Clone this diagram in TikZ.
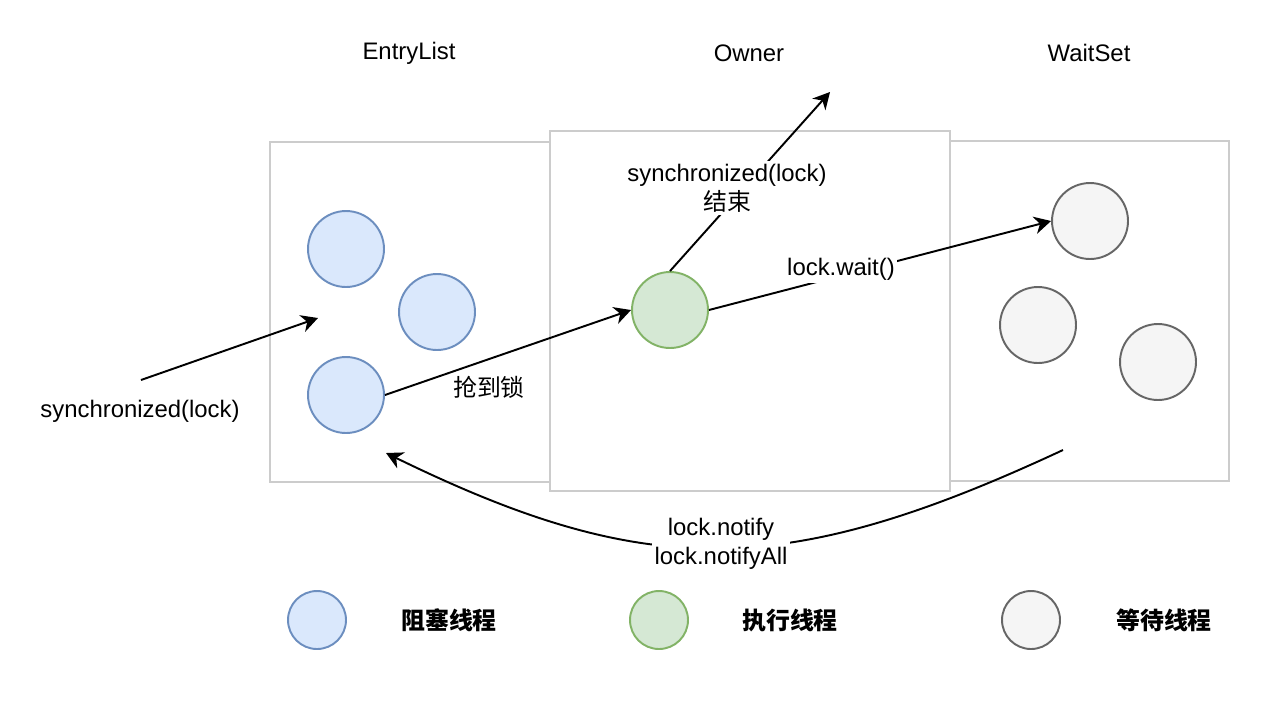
\documentclass[tikz,border=0pt]{standalone}
\usepackage{fontspec}
\setmainfont{Liberation Sans}
\newfontfamily\cjk{Noto Sans CJK SC}
\usepackage{xcolor}
\usepackage{tikz}
\usetikzlibrary{shapes,arrows.meta,positioning,calc}

\definecolor{boxgray}{HTML}{CCCCCC}
\definecolor{blockfill}{HTML}{DAE8FC}
\definecolor{blockline}{HTML}{6C8EBF}
\definecolor{runfill}{HTML}{D5E8D4}
\definecolor{runline}{HTML}{82B366}
\definecolor{waitfill}{HTML}{F5F5F5}
\definecolor{waitline}{HTML}{666666}

\begin{document}
\begin{tikzpicture}[x=0.02cm, y=-0.02cm,
    every node/.style={font=\fontsize{13.6}{16.5}\selectfont},
    monitor/.style={draw=boxgray, fill=white, line width=1.1pt, rectangle, inner sep=0pt},
    blocked/.style={circle, draw=blockline, fill=blockfill, line width=1.1pt, minimum size=1.52cm, inner sep=0pt},
    running/.style={circle, draw=runline, fill=runfill, line width=1.1pt, minimum size=1.52cm, inner sep=0pt},
    waiting/.style={circle, draw=waitline, fill=waitfill, line width=1.1pt, minimum size=1.52cm, inner sep=0pt},
    key/.style={minimum size=1.16cm},
    keytext/.style={font=\fontsize{13.6}{16.5}\selectfont\cjk\bfseries},
    edgelabel/.style={fill=white, align=center, inner sep=1.5pt},
    arrow/.style={-{Stealth[length=9.5pt, width=10pt, inset=3pt]}, line width=1.1pt}
]
\useasboundingbox (0,0) rectangle (1278,708);

\node (entrytitle) at (409,53) {EntryList};
\node (ownertitle) at (749,53) {Owner};
\node (waittitle) at (1089,53) {WaitSet};

\node[monitor, minimum width=5.6cm, minimum height=6.8cm] (entrybox) at (410,312) {};
\node[monitor, minimum width=5.6cm, minimum height=6.8cm] (waitbox) at (1089,311) {};
\node[monitor, minimum width=8cm, minimum height=7.2cm] (ownerbox) at (750,311) {};

\node[blocked] (b1) at (346,249) {};
\node[blocked] (b2) at (437,312) {};
\node[blocked] (b3) at (346,395) {};
\node[running] (run) at (670,310) {};
\node[waiting] (w1) at (1090,221) {};
\node[waiting] (w2) at (1038,325) {};
\node[waiting] (w3) at (1158,362) {};

\coordinate (enter) at (141,380);
\coordinate (entered) at (318,318);
\coordinate (leave) at (830,92);
\coordinate (wakefrom) at (1063,450);
\coordinate (waketo) at (386,453);

\draw[arrow] (enter) -- (entered);
\draw[arrow] (b3.east) -- (run.west);
\draw[arrow] (run.north) -- (leave);
\draw[arrow] (run.east) -- (w1.west);
\draw[arrow] (wakefrom) .. controls (784,580) and (646,580) .. (waketo);

\node (synclabel) at (140,411) {synchronized(lock)};
\node (grablabel) at (489,387) {\cjk 抢到锁};
\node[edgelabel] (exitlabel) at (727,188) {synchronized(lock)\\{\cjk 结束}};
\node[edgelabel] (waitlabel) at (841,269) {lock.wait()};
\node[edgelabel] (notifylabel) at (721,544) {lock.notify\\lock.notifyAll};

\node[blocked, key] (kb) at (317,620) {};
\node[keytext] (kbtext) at (449,620) {阻塞线程};
\node[running, key] (kr) at (659,620) {};
\node[keytext] (krtext) at (790,620) {执行线程};
\node[waiting, key] (kw) at (1031,620) {};
\node[keytext] (kwtext) at (1164,620) {等待线程};
\end{tikzpicture}
\end{document}
